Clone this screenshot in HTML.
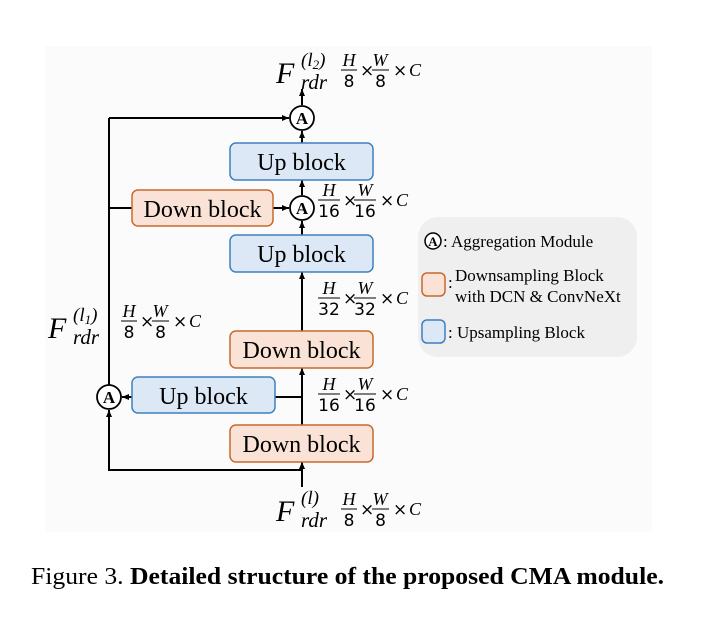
<!DOCTYPE html>
<html><head><meta charset="utf-8"><style>
html,body{margin:0;padding:0;background:#fff;}
svg{display:block;}
</style></head><body>
<svg width="723" height="617" viewBox="0 0 723 617" xmlns="http://www.w3.org/2000/svg">
<defs>
<marker id="ar" markerWidth="8" markerHeight="8" refX="7" refY="4" orient="auto" markerUnits="userSpaceOnUse">
<path d="M0,1 L7,4 L0,7 z" fill="#000"/></marker>
<g id="fr8" font-size="18">
<text x="8" y="-4" font-family="Liberation Serif, serif" font-style="italic" text-anchor="middle">H</text>
<line x1="0" y1="0" x2="16" y2="0" stroke="#000" stroke-width="1"/>
<text x="8" y="17" font-family="DejaVu Sans, sans-serif" font-size="17" text-anchor="middle">8</text>
<text x="19" y="6" font-family="DejaVu Sans, sans-serif" font-size="17">×</text>
<text x="39" y="-4" font-family="Liberation Serif, serif" font-style="italic" text-anchor="middle">W</text>
<line x1="31" y1="0" x2="48" y2="0" stroke="#000" stroke-width="1"/>
<text x="39.5" y="17" font-family="DejaVu Sans, sans-serif" font-size="17" text-anchor="middle">8</text>
<text x="52" y="6" font-family="DejaVu Sans, sans-serif" font-size="17">×</text>
<text x="68" y="6" font-family="Liberation Serif, serif" font-style="italic">C</text>
</g>
<g id="fr16" font-size="18">
<text x="11" y="-4" font-family="Liberation Serif, serif" font-style="italic" text-anchor="middle">H</text>
<line x1="0" y1="0" x2="22" y2="0" stroke="#000"/>
<text x="11" y="17" font-family="DejaVu Sans, sans-serif" font-size="17" text-anchor="middle">16</text>
<text x="25" y="6" font-family="DejaVu Sans, sans-serif" font-size="17">×</text>
<text x="47" y="-4" font-family="Liberation Serif, serif" font-style="italic" text-anchor="middle">W</text>
<line x1="36" y1="0" x2="58" y2="0" stroke="#000"/>
<text x="47" y="17" font-family="DejaVu Sans, sans-serif" font-size="17" text-anchor="middle">16</text>
<text x="62" y="6" font-family="DejaVu Sans, sans-serif" font-size="17">×</text>
<text x="78" y="6" font-family="Liberation Serif, serif" font-style="italic">C</text>
</g>
<g id="fr32" font-size="18">
<text x="11" y="-4" font-family="Liberation Serif, serif" font-style="italic" text-anchor="middle">H</text>
<line x1="0" y1="0" x2="22" y2="0" stroke="#000"/>
<text x="11" y="17" font-family="DejaVu Sans, sans-serif" font-size="17" text-anchor="middle">32</text>
<text x="25" y="6" font-family="DejaVu Sans, sans-serif" font-size="17">×</text>
<text x="47" y="-4" font-family="Liberation Serif, serif" font-style="italic" text-anchor="middle">W</text>
<line x1="36" y1="0" x2="58" y2="0" stroke="#000"/>
<text x="47" y="17" font-family="DejaVu Sans, sans-serif" font-size="17" text-anchor="middle">32</text>
<text x="62" y="6" font-family="DejaVu Sans, sans-serif" font-size="17">×</text>
<text x="78" y="6" font-family="Liberation Serif, serif" font-style="italic">C</text>
</g>
</defs>
<rect x="45" y="46" width="607" height="486" fill="#fbfbfb"/>
<!-- legend -->
<rect x="418" y="217" width="219" height="140" rx="20" fill="#efefef"/>
<g font-family="Liberation Serif, serif" font-size="17">
<circle cx="433" cy="241" r="8" fill="#fff" stroke="#000" stroke-width="1.5"/>
<text x="433" y="246" font-size="13" font-weight="bold" text-anchor="middle">A</text>
<text x="443" y="247">: Aggregation Module</text>
<rect x="422" y="273" width="23" height="23" rx="5" fill="#fae3d6" stroke="#c8692d" stroke-width="1.5"/>
<text x="448" y="288">:</text>
<text x="455" y="281">Downsampling Block</text>
<text x="455" y="302">with DCN &amp; ConvNeXt</text>
<rect x="422" y="320" width="23" height="23" rx="5" fill="#dce8f5" stroke="#3f7fbf" stroke-width="1.5"/>
<text x="448" y="338">: Upsampling Block</text>
</g>

<!-- lines -->
<g stroke="#000" stroke-width="2" fill="none">
<polyline points="302,470 109,470 109,410" marker-end="url(#ar)"/>
<line x1="109" y1="385" x2="109" y2="118"/>
<line x1="109" y1="118" x2="289" y2="118" marker-end="url(#ar)"/>
<line x1="109" y1="208" x2="132" y2="208"/>
<line x1="273" y1="208" x2="289" y2="208" marker-end="url(#ar)"/>
<line x1="302" y1="105" x2="302" y2="89" marker-end="url(#ar)"/>
<line x1="302" y1="143" x2="302" y2="131" marker-end="url(#ar)"/>
<line x1="302" y1="195" x2="302" y2="180" marker-end="url(#ar)"/>
<line x1="302" y1="235" x2="302" y2="221" marker-end="url(#ar)"/>
<line x1="302" y1="331" x2="302" y2="272" marker-end="url(#ar)"/>
<line x1="302" y1="425" x2="302" y2="368" marker-end="url(#ar)"/>
<line x1="302" y1="487" x2="302" y2="462" marker-end="url(#ar)"/>
<line x1="302" y1="397" x2="275" y2="397"/>
<line x1="132" y1="397" x2="122" y2="397" marker-end="url(#ar)"/>
</g>
<!-- circles -->
<g font-family="Liberation Serif, serif" font-size="17" font-weight="bold" text-anchor="middle">
<circle cx="302" cy="118" r="12" fill="#fff" stroke="#000" stroke-width="1.8"/><text x="302" y="124">A</text>
<circle cx="302" cy="208" r="12" fill="#fff" stroke="#000" stroke-width="1.8"/><text x="302" y="214">A</text>
<circle cx="109" cy="397" r="12" fill="#fff" stroke="#000" stroke-width="1.8"/><text x="109" y="403">A</text>
</g>
<!-- blocks -->
<g font-family="Liberation Serif, serif" font-size="24" text-anchor="middle">
<rect x="230" y="143" width="143" height="37" rx="6" fill="#dce8f5" stroke="#3f7fbf" stroke-width="1.5"/><text x="301.5" y="170">Up block</text>
<rect x="132" y="190" width="141" height="36" rx="6" fill="#fae3d6" stroke="#c8692d" stroke-width="1.5"/><text x="202.5" y="217">Down block</text>
<rect x="230" y="235" width="143" height="37" rx="6" fill="#dce8f5" stroke="#3f7fbf" stroke-width="1.5"/><text x="301.5" y="262">Up block</text>
<rect x="230" y="331" width="143" height="37" rx="6" fill="#fae3d6" stroke="#c8692d" stroke-width="1.5"/><text x="301.5" y="358">Down block</text>
<rect x="132" y="377" width="143" height="36" rx="6" fill="#dce8f5" stroke="#3f7fbf" stroke-width="1.5"/><text x="203.5" y="404">Up block</text>
<rect x="230" y="425" width="143" height="37" rx="6" fill="#fae3d6" stroke="#c8692d" stroke-width="1.5"/><text x="301.5" y="452">Down block</text>
</g>
<!-- F labels -->
<g font-family="Liberation Serif, serif" font-style="italic">
<text x="276" y="83" font-size="30">F</text><text x="301" y="66" font-size="19">(l<tspan font-size="13" dy="3">2</tspan><tspan dy="-3">)</tspan></text><text x="301" y="89" font-size="21">rdr</text>
<text x="48" y="338" font-size="30">F</text><text x="73" y="321" font-size="19">(l<tspan font-size="13" dy="3">1</tspan><tspan dy="-3">)</tspan></text><text x="73" y="344" font-size="21">rdr</text>
<text x="276" y="521" font-size="30">F</text><text x="301" y="504" font-size="19">(l)</text><text x="301" y="527" font-size="21">rdr</text>
</g>
<use href="#fr8" x="341" y="70"/>
<use href="#fr8" x="121" y="321"/>
<use href="#fr8" x="341" y="509"/>
<use href="#fr16" x="318" y="200"/>
<use href="#fr32" x="318" y="298"/>
<use href="#fr16" x="318" y="394"/>
<!-- caption -->
<text x="31" y="584" font-family="Liberation Serif, serif" font-size="24" textLength="633" lengthAdjust="spacingAndGlyphs">Figure 3. <tspan font-weight="bold">Detailed structure of the proposed CMA module.</tspan></text>
</svg>
</body></html>
